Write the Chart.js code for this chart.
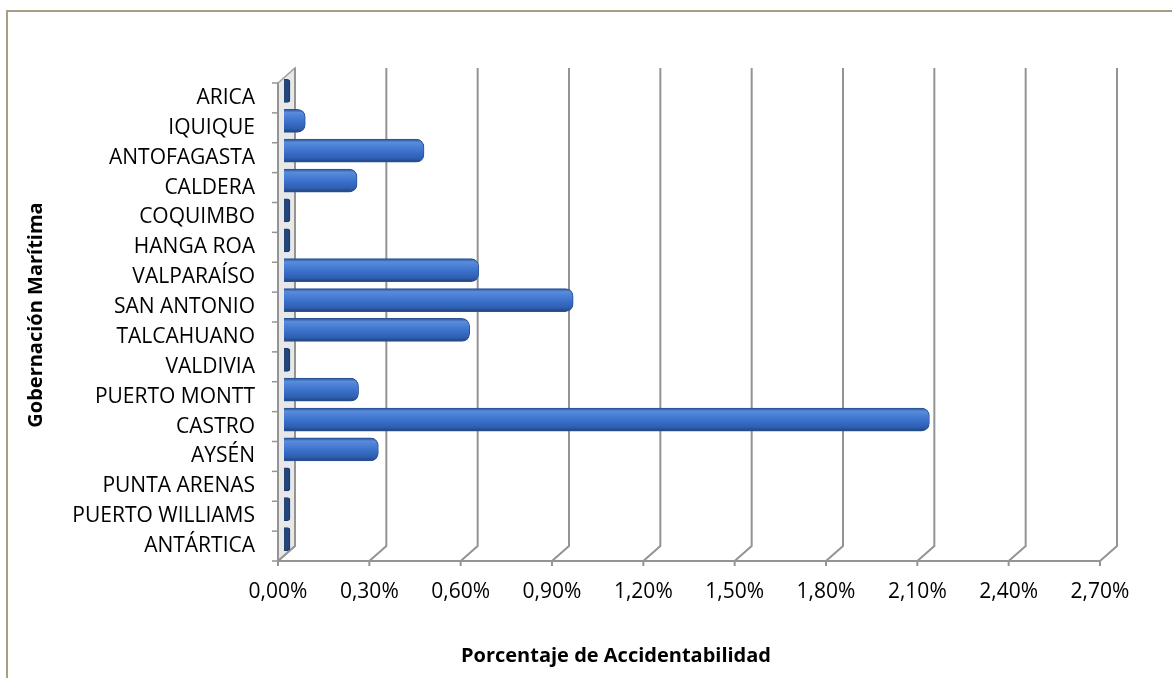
<!DOCTYPE html>
<html><head><meta charset="utf-8">
<script src="https://cdn.jsdelivr.net/npm/chart.js@4.4.1/dist/chart.umd.min.js"></script>
<style>
html,body{margin:0;padding:0;background:#fff;overflow:hidden}
#wrap{position:relative;width:1172px;height:678px}
#frame{position:absolute;left:6px;top:10px;width:1300px;height:800px;border-left:2px solid #a89d82;border-top:2px solid #a89d82;box-sizing:border-box}
canvas{position:absolute;left:0;top:0}
</style></head><body>
<div id="wrap"><div id="frame"></div><canvas id="c" width="1172" height="678"></canvas></div>
<script>
const categories = ['ARICA','IQUIQUE','ANTOFAGASTA','CALDERA','COQUIMBO','HANGA ROA','VALPARAÍSO','SAN ANTONIO','TALCAHUANO','VALDIVIA','PUERTO MONTT','CASTRO','AYSÉN','PUNTA ARENAS','PUERTO WILLIAMS','ANTÁRTICA'];
const accidentRate = [0, 0.07, 0.46, 0.24, 0, 0, 0.64, 0.95, 0.61, 0, 0.245, 2.12, 0.31, 0, 0, 0];
const xTickValues = [0, 0.3, 0.6, 0.9, 1.2, 1.5, 1.8, 2.1, 2.4, 2.7];
const xTickLabels = ['0,00%','0,30%','0,60%','0,90%','1,20%','1,50%','1,80%','2,10%','2,40%','2,70%'];
const yTitle = 'Gobernación Marítima';
const xTitle = 'Porcentaje de Accidentabilidad';

const FONT = '"Open Sans", "Noto Sans", sans-serif';
const depth = {fx: -6, fy: 7, bx: 11, by: -8};

function barFill(c) {
  if (c.raw === 0) return '#24457a';
  const chart = c.chart;
  const ys = chart.scales.y;
  if (!ys || !chart.chartArea) return '#3b6fc6';
  const cy = ys.getPixelForValue(c.dataIndex);
  const g = chart.ctx.createLinearGradient(0, cy - 11, 0, cy + 11);
  g.addColorStop(0, '#2d5aa3');
  g.addColorStop(0.12, '#5a8cda');
  g.addColorStop(0.3, '#4a80d6');
  g.addColorStop(0.6, '#386dc6');
  g.addColorStop(0.85, '#2e5eb0');
  g.addColorStop(1, '#22467f');
  return g;
}

const frame3d = {
  id: 'frame3d',
  beforeDatasetsDraw(chart) {
    const {ctx, chartArea: a, scales: {x, y}} = chart;
    const x0 = x.getPixelForValue(0);
    const xEnd = x.getPixelForValue(x.max);
    ctx.save();
    // left wall
    ctx.beginPath();
    ctx.moveTo(x0 + depth.fx, a.top + depth.fy);
    ctx.lineTo(x0 + depth.bx, a.top + depth.by);
    ctx.lineTo(x0 + depth.bx, a.bottom + depth.by);
    ctx.lineTo(x0 + depth.fx, a.bottom + depth.fy);
    ctx.closePath();
    ctx.fillStyle = '#e8e8e8';
    ctx.fill();
    ctx.strokeStyle = '#a0a0a0';
    ctx.lineWidth = 1.5;
    ctx.stroke();
    // back grid lines + floor connectors + front ticks
    ctx.strokeStyle = '#949494';
    ctx.lineWidth = 2;
    xTickValues.forEach(v => {
      const px = x.getPixelForValue(v);
      ctx.beginPath();
      ctx.moveTo(px + depth.bx, a.top + depth.by);
      ctx.lineTo(px + depth.bx, a.bottom + depth.by);
      ctx.lineTo(px + depth.fx, a.bottom + depth.fy);
      ctx.stroke();
      ctx.beginPath();
      ctx.moveTo(px + depth.fx, a.bottom + depth.fy);
      ctx.lineTo(px + depth.fx, a.bottom + depth.fy + 5);
      ctx.stroke();
    });
    // front baseline
    ctx.beginPath();
    ctx.moveTo(x0 + depth.fx, a.bottom + depth.fy);
    ctx.lineTo(xEnd + depth.fx, a.bottom + depth.fy);
    ctx.stroke();
    // front left axis + category ticks
    ctx.beginPath();
    ctx.moveTo(x0 + depth.fx, a.top + depth.fy);
    ctx.lineTo(x0 + depth.fx, a.bottom + depth.fy);
    ctx.stroke();
    ctx.lineWidth = 1.5;
    for (let i = 0; i <= categories.length; i++) {
      const yy = y.getPixelForValue(i - 0.5) + depth.fy;
      ctx.beginPath();
      ctx.moveTo(x0 + depth.fx - 6, yy);
      ctx.lineTo(x0 + depth.fx, yy);
      ctx.stroke();
    }
    ctx.restore();
  },
  afterDraw(chart) {
    const {ctx} = chart;
    ctx.save();
    ctx.font = 'bold 20px ' + FONT;
    ctx.fillStyle = '#000';
    ctx.textAlign = 'center';
    ctx.textBaseline = 'middle';
    ctx.fillText(xTitle, 616, 656);
    ctx.restore();
  }
};

new Chart(document.getElementById('c'), {
  type: 'bar',
  data: {
    labels: categories,
    datasets: [{
      data: accidentRate,
      backgroundColor: barFill,
      borderColor: c => c.raw === 0 ? '#1c3763' : '#2b5396',
      borderWidth: 1,
      borderRadius: 8,
      barThickness: 23,
      minBarLength: 6
    }]
  },
  options: {
    indexAxis: 'y',
    responsive: false,
    animation: false,
    devicePixelRatio: 1,
    layout: {padding: {left: 20, top: 76, right: 66, bottom: 0}},
    plugins: {legend: {display: false}, tooltip: {enabled: false}},
    scales: {
      x: {
        type: 'linear', min: 0, max: 2.7,
        afterBuildTicks: s => { s.ticks = xTickValues.map(v => ({value: v})); },
        afterFit: s => { s.height = 124; },
        grid: {display: false, drawTicks: false},
        border: {display: false},
        ticks: {
          callback: (v, i) => xTickLabels[i],
          font: {family: FONT, size: 21},
          color: '#000',
          padding: 25,
          labelOffset: depth.fx,
          maxRotation: 0, autoSkip: false
        }
      },
      y: {
        type: 'category',
        afterFit: s => { s.width = 264; },
        grid: {display: false, drawTicks: false},
        border: {display: false},
        ticks: {
          font: {family: FONT, size: 21},
          color: '#000',
          padding: 29,
          labelOffset: depth.fy,
          autoSkip: false
        },
        title: {
          display: true, text: yTitle,
          font: {family: FONT, size: 20, weight: 'bold'},
          color: '#000',
          padding: {top: 4, bottom: 0}
        }
      }
    }
  },
  plugins: [frame3d]
});
</script>
</body></html>
